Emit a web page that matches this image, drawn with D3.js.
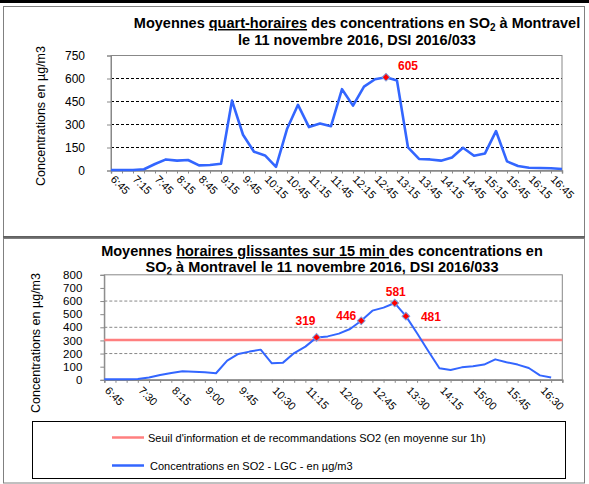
<!DOCTYPE html>
<html>
<head>
<meta charset="utf-8">
<script src="https://cdn.jsdelivr.net/npm/d3@7"></script>
<style>
    body { margin: 0; background: #fff; }
    svg { display: block; font-family: Arial, "Liberation Sans", sans-serif; }
</style>
</head>
<body>
<script>
//categories: quarter hours from 6:45 to 17:00
var times = ["6:45", "7:00", "7:15", "7:30", "7:45", "8:00", "8:15", "8:30", "8:45", "9:00",
    "9:15", "9:30", "9:45", "10:00", "10:15", "10:30", "10:45", "11:00", "11:15", "11:30",
    "11:45", "12:00", "12:15", "12:30", "12:45", "13:00", "13:15", "13:30", "13:45", "14:00",
    "14:15", "14:30", "14:45", "15:00", "15:15", "15:30", "15:45", "16:00", "16:15", "16:30",
    "16:45", "17:00"];

//quarter hour averages (top chart)
var quartHoraire = [0, 0, 0, 5, 39, 69, 61, 65, 30, 33, 41, 453, 230, 119, 95, 20, 267, 425, 280, 303,
    286, 527, 420, 544, 592, 605, 583, 147, 72, 69, 61, 82, 145, 93, 108, 254, 56, 26, 15, 13, 11, 7];

//sliding hourly averages (bottom chart)
var glissante = [0, 0, 0, 3, 13, 33, 48, 61, 58, 53, 46, 142, 193, 211, 226, 122, 127, 200, 249, 319,
    327, 348, 383, 446, 523, 546, 581, 481, 351, 216, 84, 71, 91, 99, 112, 152, 130, 112, 86, 30, 13, null];

var seuil = 300;

//tick labels
var topTicks = ["6:45", "7:15", "7:45", "8:15", "8:45", "9:15", "9:45", "10:15", "10:45", "11:15", "11:45",
    "12:15", "12:45", "13:15", "13:45", "14:15", "14:45", "15:15", "15:45", "16:15", "16:45"];
var bottomTicks = ["6:45", "7:30", "8:15", "9:00", "9:45", "10:30", "11:15", "12:00", "12:45", "13:30",
    "14:15", "15:00", "15:45", "16:30"];
var topYTicks = [0, 150, 300, 450, 600, 750];
var bottomYTicks = [0, 100, 200, 300, 400, 500, 600, 700, 800];
var bottomGrid = [200, 400, 600];

//labelled points
var topLabels = [{ t: "13:00", v: 605, dx: 22, dy: -7 }];
var bottomLabels = [
    { t: "11:30", v: 319, dx: -11, dy: -12 },
    { t: "12:30", v: 446, dx: -15, dy: -1 },
    { t: "13:15", v: 581, dx: 1, dy: -7 },
    { t: "13:30", v: 481, dx: 25, dy: 4.5 }
];

var blue = "#3366ff", red = "#ff0000";

var svg = d3.select("body").append("svg")
    .attr("width", 589)
    .attr("height", 484);

//frames
svg.append("rect").attr("x", 0).attr("y", 0).attr("width", 589).attr("height", 3).attr("fill", "#000");
svg.append("rect").attr("x", 3.5).attr("y", 6.5).attr("width", 581).attr("height", 230)
    .attr("fill", "none").attr("stroke", "#808080").attr("stroke-width", 1);
svg.append("line").attr("x1", 3).attr("x2", 585).attr("y1", 237.5).attr("y2", 237.5)
    .attr("stroke", "#555").attr("stroke-width", 2.5);
svg.append("rect").attr("x", 3.5).attr("y", 238).attr("width", 581).attr("height", 245)
    .attr("fill", "none").attr("stroke", "#808080").attr("stroke-width", 1);

function title(g, x, y, parts) {
    var t = g.append("text")
        .attr("x", x).attr("y", y)
        .attr("text-anchor", "middle")
        .attr("font-size", "14.5px")
        .attr("font-weight", "bold");
    parts.forEach(function (p) {
        var s = t.append("tspan").text(p.s);
        if (p.u) s.attr("text-decoration", "underline");
        if (p.sub) s.attr("font-size", "10px").attr("baseline-shift", "-25%");
    });
}

function drawChart(opt) {
    var x = d3.scalePoint().domain(times).range([opt.left, opt.right]);
    var y = d3.scaleLinear().domain([0, opt.max]).range([opt.bottom, opt.top]);
    var g = svg.append("g");

    //gridlines
    g.selectAll(".grid").data(opt.grid).enter().append("line")
        .attr("x1", opt.left).attr("x2", opt.right)
        .attr("y1", function (d) { return y(d) + 0.5; })
        .attr("y2", function (d) { return y(d) + 0.5; })
        .attr("stroke", opt.gridColor)
        .attr("stroke-dasharray", "3,2");

    //plot border
    g.append("rect")
        .attr("x", opt.left).attr("y", opt.top + 0.5)
        .attr("width", opt.right - opt.left).attr("height", opt.bottom - opt.top)
        .attr("fill", "none").attr("stroke", "#888");

    //y axis
    var yAxis = g.append("g")
        .attr("transform", "translate(" + opt.left + ",0.5)")
        .call(d3.axisLeft(y).tickValues(opt.yTicks).tickSize(4).tickPadding(opt.yPad));
    yAxis.select(".domain").attr("stroke", "#888");
    yAxis.selectAll(".tick line").attr("stroke", "#888");
    yAxis.selectAll("text").attr("font-size", opt.yFont).attr("font-family", null).attr("fill", "#000");

    //x axis
    var xAxis = g.append("g")
        .attr("transform", "translate(0," + (opt.bottom + 0.5) + ")")
        .call(d3.axisBottom(x).tickSize(3).tickFormat(""));
    xAxis.select(".domain").attr("stroke", "#888").attr("stroke-width", 1.5);
    xAxis.selectAll(".tick line").attr("stroke", "#888");

    g.selectAll(".xlab").data(opt.xTicks).enter().append("text")
        .attr("transform", function (d) {
            return "translate(" + (x(d) + opt.xdx) + "," + (opt.bottom + opt.xdy) + ") rotate(45)";
        })
        .attr("font-size", "11px")
        .text(function (d) { return d; });

    //threshold
    if (opt.seuil) {
        g.append("line")
            .attr("x1", opt.left).attr("x2", opt.right)
            .attr("y1", y(opt.seuil)).attr("y2", y(opt.seuil))
            .attr("stroke", "#ff7f7f").attr("stroke-width", 2.5);
    }

    //data line
    var line = d3.line()
        .defined(function (d) { return d != null; })
        .x(function (d, i) { return x(times[i]); })
        .y(function (d) { return y(d); });
    g.append("path")
        .datum(opt.values)
        .attr("d", line)
        .attr("fill", "none")
        .attr("stroke", blue)
        .attr("stroke-width", opt.lineWidth)
        .attr("stroke-linejoin", "round");

    //markers and labels
    g.selectAll(".mark").data(opt.labels).enter().append("path")
        .attr("d", d3.symbol(d3.symbolSquare, 30))
        .attr("transform", function (d) { return "translate(" + x(d.t) + "," + y(d.v) + ") rotate(45)"; })
        .attr("fill", red)
        .attr("stroke", "#7f9fdf")
        .attr("stroke-width", 1);
    g.selectAll(".val").data(opt.labels).enter().append("text")
        .attr("x", function (d) { return x(d.t) + d.dx; })
        .attr("y", function (d) { return y(d.v) + d.dy; })
        .attr("text-anchor", "middle")
        .attr("font-size", "12px")
        .attr("font-weight", "bold")
        .attr("fill", red)
        .text(function (d) { return d.v; });

    //y title
    g.append("text")
        .attr("transform", "translate(" + opt.titleX + "," + opt.titleY + ") rotate(-90)")
        .attr("text-anchor", "middle")
        .attr("font-size", "12.5px")
        .text("Concentrations en µg/m3");
    return g;
}

//top chart
title(svg, 357, 28, [{ s: "Moyennes " }, { s: "quart-horaires", u: true }, { s: " des concentrations en SO" },
    { s: "2", sub: true }, { s: " à Montravel" }]);
title(svg, 357, 45, [{ s: "le 11 novembre 2016, DSI 2016/033" }]);

drawChart({
    left: 111, right: 562, top: 55, bottom: 170, max: 750,
    values: quartHoraire, yTicks: topYTicks, grid: [150, 300, 450, 600],
    gridColor: "#000", yFont: "12px", yPad: 22, xTicks: topTicks, xdx: -1, xdy: 10,
    labels: topLabels, lineWidth: 2.6, titleX: 45, titleY: 116
});

//bottom chart
title(svg, 322, 256, [{ s: "Moyennes " }, { s: "horaires glissantes sur 15 min ", u: true },
    { s: "des concentrations en" }]);
title(svg, 322, 272, [{ s: "SO" }, { s: "2", sub: true }, { s: " à Montravel le 11 novembre 2016, DSI 2016/033" }]);

drawChart({
    left: 104.3, right: 562.3, top: 274.3, bottom: 379.3, max: 800,
    values: glissante, yTicks: bottomYTicks, grid: bottomGrid,
    gridColor: "#888", yFont: "11.5px", yPad: 18, xTicks: bottomTicks, xdx: 0, xdy: 12,
    labels: bottomLabels, lineWidth: 2, seuil: seuil, titleX: 40, titleY: 343
});

//legend
var legend = svg.append("g");
legend.append("rect")
    .attr("x", 32.5).attr("y", 421.5).attr("width", 533).attr("height", 57)
    .attr("fill", "#fff").attr("stroke", "#000");
var legendItems = [
    { label: "Seuil d'information et de recommandations SO2 (en moyenne sur 1h)", color: "#ff7f7f", y: 437.5, tx: 148 },
    { label: "Concentrations en SO2 - LGC - en µg/m3", color: blue, y: 465.5, tx: 150 }
];
legend.selectAll(".lline").data(legendItems).enter().append("line")
    .attr("x1", 112).attr("x2", 144)
    .attr("y1", function (d) { return d.y; }).attr("y2", function (d) { return d.y; })
    .attr("stroke", function (d) { return d.color; })
    .attr("stroke-width", 2.5);
legend.selectAll(".ltext").data(legendItems).enter().append("text")
    .attr("x", function (d) { return d.tx; })
    .attr("y", function (d) { return d.y + 4; })
    .attr("font-size", "11px")
    .text(function (d) { return d.label; });
</script>
</body>
</html>
